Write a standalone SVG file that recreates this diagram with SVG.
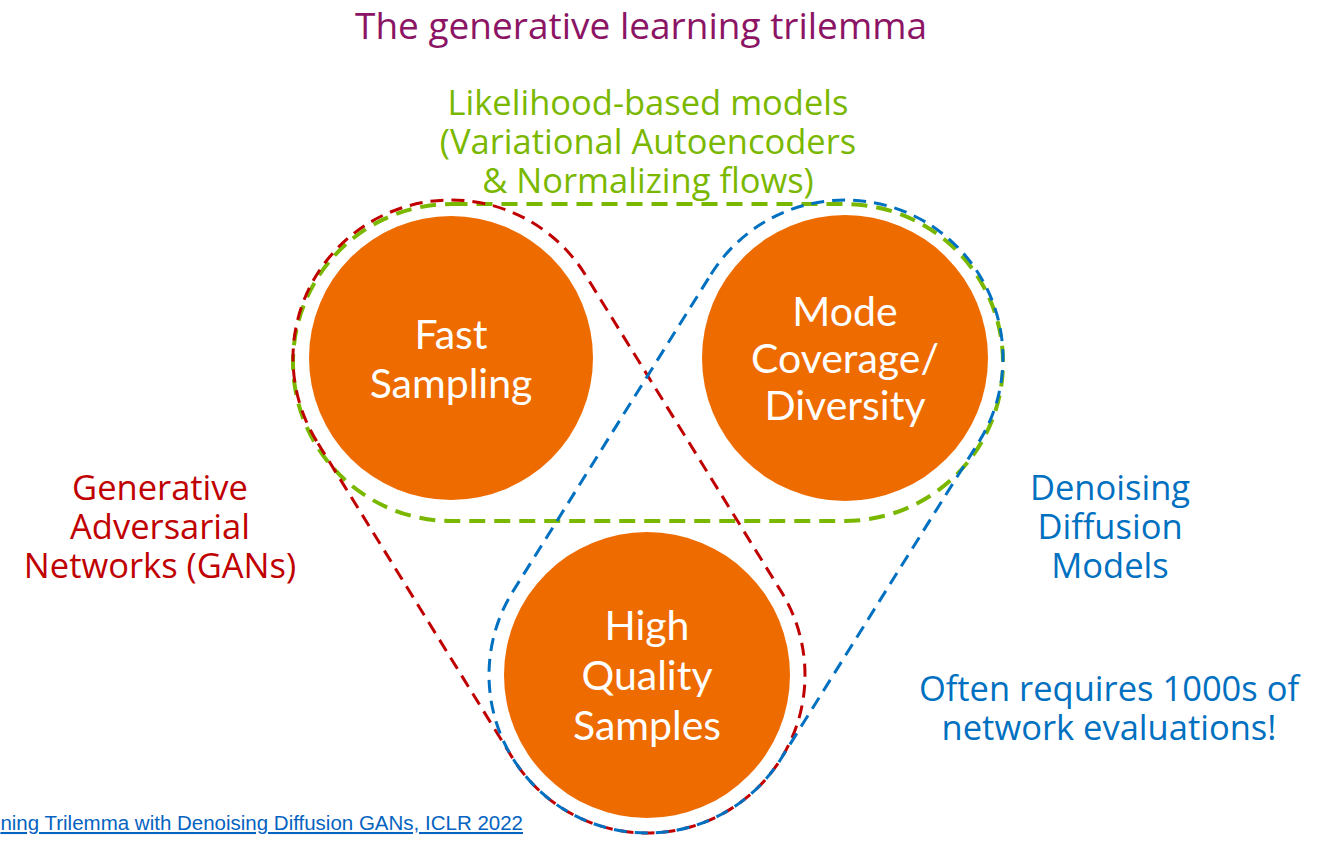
<svg xmlns="http://www.w3.org/2000/svg" width="1332" height="843" viewBox="0 0 1332 843">
  <style>
    .lbl { font-family: "Open Sans", "DejaVu Sans", sans-serif; font-size: 34.5px; text-anchor: middle; }
    .title { font-family: "Open Sans", "DejaVu Sans", sans-serif; font-size: 37px; text-anchor: middle; fill: #8C1464; }
    .node circle { fill: #EE6B00; }
    .node text { font-family: "Lato", "Open Sans", sans-serif; font-size: 41px; fill: #ffffff; text-anchor: middle; }
    .hull { fill: none; }
    .green { stroke: #7AB800; stroke-width: 4; stroke-dasharray: 16 9; }
    .red { stroke: #C00000; stroke-width: 3; stroke-dasharray: 13 8; }
    .blue { stroke: #0070C0; stroke-width: 3; stroke-dasharray: 13 8; }
    .cite { font-family: "Liberation Sans", Arial, sans-serif; font-size: 20.5px; fill: #0563C1; text-anchor: end; text-decoration: underline; }
  </style>
  <rect width="1332" height="843" fill="#ffffff"/>

  <text class="title" x="641" y="39">The generative learning trilemma</text>

  <!-- dashed outlines grouping pairs of properties (r = 158 around each circle) -->
  <g id="connectors">
    <!-- likelihood-based: stadium around the two upper circles -->
    <rect class="hull green" x="293" y="204" width="710" height="317" rx="158.5" ry="158.5"/>
    <!-- GANs: hull of fast sampling + high quality -->
    <path class="hull red" d="M316.61,441.09 A158,158 0 0 1 367.91,223.61 A158,158 0 0 1 585.39,274.91 L781.39,591.91 A158,158 0 0 1 730.09,809.39 A158,158 0 0 1 512.61,758.09 Z"/>
    <!-- diffusion: hull of mode coverage + high quality -->
    <path class="hull blue" d="M711,274.3 A158,158 0 0 1 928.7,224 A158,158 0 0 1 979,441.7 L781,758.7 A158,158 0 0 1 563.3,809 A158,158 0 0 1 513,591.3 Z"/>
  </g>

  <g id="fast-sampling" class="node">
    <circle cx="451" cy="358" r="142"/>
    <text x="451" y="349">Fast</text>
    <text x="451" y="398">Sampling</text>
  </g>
  <g id="mode-coverage" class="node">
    <circle cx="845" cy="358" r="143"/>
    <text x="845" y="326">Mode</text>
    <text x="845" y="373">Coverage/</text>
    <text x="845" y="420">Diversity</text>
  </g>
  <g id="high-quality" class="node">
    <circle cx="647" cy="675" r="143"/>
    <text x="647" y="640">High</text>
    <text x="647" y="690">Quality</text>
    <text x="647" y="740">Samples</text>
  </g>

  <g id="likelihood-label" class="lbl" fill="#7AB800">
    <text x="648" y="115">Likelihood-based models</text>
    <text x="648" y="154">(Variational Autoencoders</text>
    <text x="648" y="193">&amp; Normalizing flows)</text>
  </g>
  <g id="gan-label" class="lbl" fill="#C00000">
    <text x="160" y="500">Generative</text>
    <text x="160" y="539">Adversarial</text>
    <text x="160" y="578">Networks (GANs)</text>
  </g>
  <g id="diffusion-label" class="lbl" fill="#0070C0">
    <text x="1110" y="500">Denoising</text>
    <text x="1110" y="539">Diffusion</text>
    <text x="1110" y="578">Models</text>
  </g>
  <g id="diffusion-note" class="lbl" fill="#0070C0">
    <text x="1109" y="701">Often requires 1000s of</text>
    <text x="1109" y="740">network evaluations!</text>
  </g>

  <text class="cite" x="523" y="830">ning Trilemma with Denoising Diffusion GANs, ICLR 2022</text>
</svg>
